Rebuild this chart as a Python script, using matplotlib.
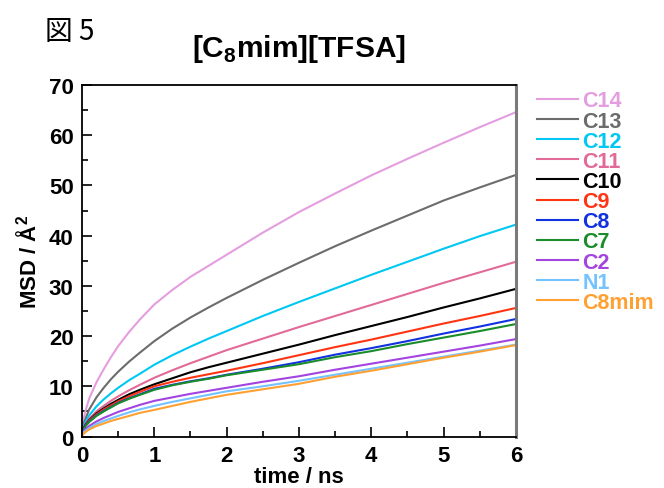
import matplotlib
matplotlib.use("Agg")
import matplotlib.pyplot as plt
from matplotlib.ticker import MultipleLocator

# time axis (ns)
time_ns = [0, 0.02, 0.05, 0.1, 0.2, 0.3, 0.4, 0.5, 0.65, 0.8, 1, 1.25, 1.5, 1.75,
           2, 2.5, 3, 3.5, 4, 4.5, 5, 5.5, 6]

# MSD values (A^2)
msd_c14 = [1.5, 3.5, 5.2, 7.6, 10.8, 13.4, 15.8, 18, 20.8, 23.3, 26.3, 29.2, 31.8, 34,
           36.2, 40.6, 44.7, 48.4, 52, 55.3, 58.5, 61.6, 64.6]
msd_c13 = [1.2, 2.5, 3.6, 5.4, 7.8, 9.7, 11.4, 12.9, 14.9, 16.7, 19.0, 21.5, 23.7, 25.7,
           27.6, 31.2, 34.6, 37.9, 41, 44, 47, 49.6, 52.1]
msd_c12 = [1, 2, 3, 4.2, 6, 7.4, 8.6, 9.7, 11.2, 12.5, 14.3, 16.2, 17.9, 19.5,
           21, 24, 26.8, 29.5, 32.2, 34.8, 37.4, 39.9, 42.2]
msd_c11 = [0.8, 1.7, 2.5, 3.5, 5.0, 6.1, 7.1, 8.0, 9.2, 10.3, 11.7, 13.2, 14.6, 15.9,
           17.2, 19.5, 21.8, 24.0, 26.2, 28.4, 30.6, 32.7, 34.8]
msd_c10 = [0.8, 1.6, 2.4, 3.3, 4.6, 5.6, 6.5, 7.3, 8.4, 9.3, 10.4, 11.6, 12.8, 13.8,
           14.7, 16.5, 18.3, 20.2, 22.0, 23.8, 25.7, 27.5, 29.4]
msd_c9 = [0.8, 1.5, 2.3, 3.2, 4.4, 5.4, 6.2, 7.0, 8.0, 8.9, 10.0, 10.9, 11.7, 12.4,
          13.1, 14.6, 16.2, 17.8, 19.3, 20.9, 22.5, 24.0, 25.6]
msd_c8 = [0.8, 1.5, 2.2, 3.0, 4.2, 5.1, 5.9, 6.7, 7.6, 8.4, 9.5, 10.3, 11.0, 11.6,
          12.3, 13.5, 14.8, 16.3, 17.6, 19.0, 20.5, 21.9, 23.4]
msd_c7 = [0.8, 1.4, 2.1, 2.9, 4.1, 5.0, 5.8, 6.6, 7.5, 8.3, 9.3, 10.2, 10.9, 11.5,
          12.2, 13.3, 14.4, 15.8, 17.0, 18.4, 19.7, 21.0, 22.4]
msd_c2 = [0.5, 1.0, 1.5, 2.1, 3.0, 3.7, 4.3, 4.9, 5.6, 6.3, 7.1, 7.8, 8.5, 9.1,
          9.7, 10.9, 12.0, 13.3, 14.5, 15.7, 16.9, 18.1, 19.4]
msd_n1 = [0.4, 0.8, 1.2, 1.7, 2.5, 3.1, 3.6, 4.1, 4.8, 5.4, 6.1, 6.9, 7.6, 8.3,
          9.0, 10.0, 11.1, 12.3, 13.5, 14.7, 15.9, 17.1, 18.3]
msd_c8mim = [0.2, 0.5, 0.9, 1.4, 2.1, 2.6, 3.1, 3.5, 4.1, 4.7, 5.3, 6.1, 6.9, 7.6,
             8.3, 9.4, 10.5, 11.9, 13.1, 14.4, 15.7, 16.9, 18.2]

labels = ["C14", "C13", "C12", "C11", "C10", "C9", "C8", "C7", "C2", "N1", "C8mim"]
series = [msd_c14, msd_c13, msd_c12, msd_c11, msd_c10, msd_c9,
          msd_c8, msd_c7, msd_c2, msd_n1, msd_c8mim]
colors = ["#e49ee0", "#6c6c6c", "#00c8f2", "#e26a98", "#000000", "#ff3412",
          "#1232e0", "#1a8c2a", "#a444e0", "#74c2ff", "#ffa032"]

plt.rcParams["font.family"] = ["Liberation Sans", "DejaVu Sans"]
plt.rcParams["mathtext.fontset"] = "custom"
plt.rcParams["mathtext.rm"] = "Liberation Sans"
plt.rcParams["mathtext.bf"] = "Liberation Sans:bold"

fig = plt.figure(figsize=(6.64, 4.89), dpi=100)
ax = fig.add_axes([0.1235, 0.1053, 0.6535, 0.7188])

for y, lab, c in zip(series, labels, colors):
    ax.plot(time_ns, y, color=c, lw=1.5, label=lab)

ax.set_xlim(0, 6)
ax.set_ylim(0, 70)
ax.xaxis.set_major_locator(MultipleLocator(1))
ax.xaxis.set_minor_locator(MultipleLocator(0.5))
ax.yaxis.set_major_locator(MultipleLocator(10))
ax.yaxis.set_minor_locator(MultipleLocator(5))
ax.tick_params(which="both", direction="in", top=False, right=False, width=1.2)
ax.tick_params(which="major", length=7, labelsize=16, pad=6)
ax.tick_params(which="minor", length=4)
for lab in ax.get_xticklabels() + ax.get_yticklabels():
    lab.set_fontweight("bold")

for s in ["left", "bottom", "top"]:
    ax.spines[s].set_linewidth(1.3)
ax.spines["right"].set_color("#7a7a7a")
ax.spines["right"].set_linewidth(2.2)

ax.set_xlabel("time / ns", fontsize=16, fontweight="bold", labelpad=0)
ax.set_ylabel("MSD / Å$^{\\mathbf{2}}$", fontsize=16, fontweight="bold", labelpad=5)

ax.set_title("[C$_\\mathbf{8}$mim][TFSA]", fontsize=21.5, fontweight="bold", pad=21)
fig.text(0.068, 0.935, "図 5", fontsize=20, family=["Noto Sans CJK JP", "DejaVu Sans"],
         va="center", ha="left")

leg = ax.legend(loc="upper left", bbox_to_anchor=(1.028, 1.009), frameon=False,
                labelcolor="linecolor", handlelength=1.9,
                handletextpad=0.23, labelspacing=-0.04, borderaxespad=0.0,
                prop={"weight": "bold", "size": 15.5})

fig.savefig("out.png", dpi=100)
